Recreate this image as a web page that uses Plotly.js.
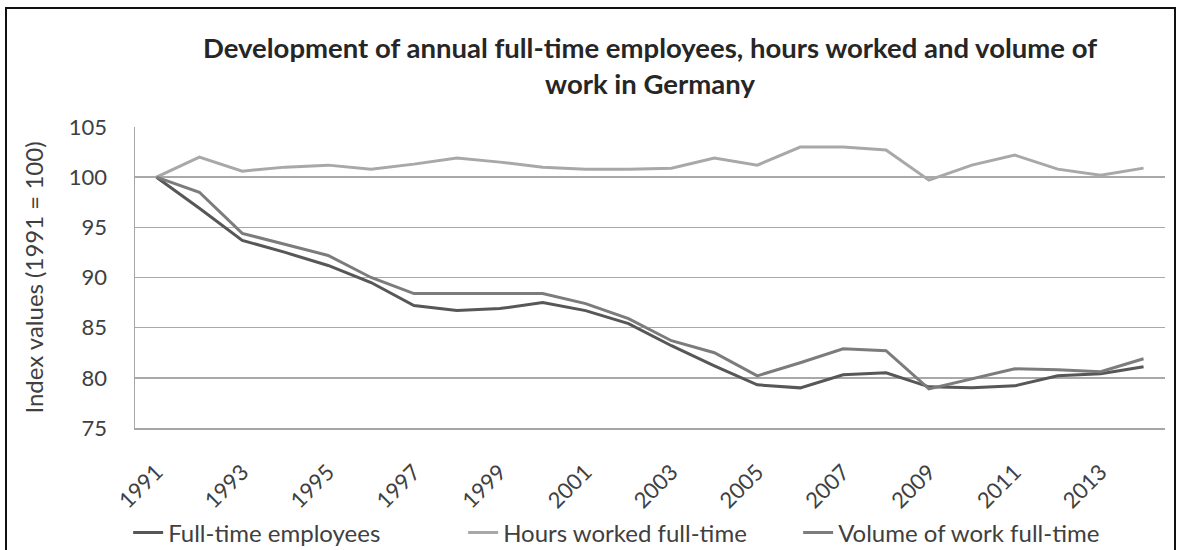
<!DOCTYPE html>
<html>
<head>
<meta charset="utf-8">
<script src="https://cdn.plot.ly/plotly-3.0.1.min.js"></script>
<style>
  html, body { margin: 0; padding: 0; background: #ffffff; overflow: hidden; }
  #chart { position: absolute; left: 0; top: 0; width: 1181px; height: 550px; }
  #frame { position: absolute; left: 5px; top: 7px; width: 1167px; height: 600px;
           border: 2px solid #111; pointer-events: none; }
</style>
</head>
<body>
<div id="chart"></div>
<div id="frame"></div>
<script>
const years = [1991,1992,1993,1994,1995,1996,1997,1998,1999,2000,2001,2002,2003,2004,2005,2006,2007,2008,2009,2010,2011,2012,2013,2014];
const fullTimeEmployees = [100,96.9,93.7,92.5,91.2,89.5,87.2,86.7,86.9,87.5,86.7,85.4,83.2,81.2,79.3,79.0,80.3,80.5,79.1,79.0,79.2,80.2,80.4,81.1];
const hoursWorked = [100,102.0,100.6,101.0,101.2,100.8,101.3,101.9,101.5,101.0,100.8,100.8,100.9,101.9,101.2,103.0,103.0,102.7,99.7,101.2,102.2,100.8,100.2,100.9];
const volumeOfWork = [100,98.5,94.4,93.3,92.2,90.0,88.4,88.4,88.4,88.4,87.4,85.9,83.7,82.5,80.2,81.5,82.9,82.7,78.9,79.9,80.9,80.8,80.6,81.9];
const tickYears = [1991,1993,1995,1997,1999,2001,2003,2005,2007,2009,2011,2013];
const yTicks = [75,80,85,90,95,100,105];

const FONT = 'Lato, "Open Sans", sans-serif';
const TXT = '#404040';

const traces = [
  { x: years, y: fullTimeEmployees, name: 'Full-time employees', type: 'scatter', mode: 'lines',
    line: { color: '#575757', width: 3 } },
  { x: years, y: hoursWorked, name: 'Hours worked full-time', type: 'scatter', mode: 'lines',
    line: { color: '#a8a8a8', width: 3 } },
  { x: years, y: volumeOfWork, name: 'Volume of work full-time', type: 'scatter', mode: 'lines',
    line: { color: '#7c7c7c', width: 3 } }
];

const layout = {
  width: 1181, height: 550,
  paper_bgcolor: '#ffffff', plot_bgcolor: '#ffffff',
  margin: { l: 135, r: 16, t: 127, b: 122 },
  font: { family: FONT, size: 22, color: TXT },
  showlegend: true,
  title: {
    text: 'Development of annual full-time employees, hours worked and volume of<br>work in Germany',
    font: { family: FONT, size: 27.5, color: '#262626', weight: 'bold' },
    x: 0.5, xref: 'paper', xanchor: 'center',
    y: 0.895, yref: 'container', yanchor: 'middle'
  },
  xaxis: {
    range: [1990.5, 2014.5],
    tickmode: 'array', tickvals: tickYears, ticktext: tickYears.map(String),
    tickangle: -45, ticks: '', ticklabelstandoff: 21,
    showgrid: false, zeroline: false,
    showline: true, linecolor: '#a6a6a6', linewidth: 1.5,
    tickfont: { family: FONT, size: 22, color: TXT }
  },
  yaxis: {
    range: [75, 105],
    tickmode: 'array', tickvals: yTicks,
    ticks: '', ticklabelstandoff: 22,
    showgrid: true, gridcolor: '#a9a9a9', gridwidth: 1.5,
    zeroline: false,
    showline: true, linecolor: '#a6a6a6', linewidth: 1.5,
    tickfont: { family: FONT, size: 22, color: TXT },
    title: { text: 'Index values (1991 = 100)', font: { family: FONT, size: 24, color: TXT }, standoff: 18 }
  },
  legend: {
    orientation: 'h', x: 0.1085, xref: 'container', xanchor: 'left',
    y: 0.031, yref: 'container', yanchor: 'middle',
    font: { family: FONT, size: 24, color: TXT },
    entrywidth: 290, entrywidthmode: 'pixels',
    bgcolor: 'rgba(0,0,0,0)'
  }
};

Plotly.newPlot('chart', traces, layout, { displayModeBar: false, staticPlot: true });
</script>
</body>
</html>
